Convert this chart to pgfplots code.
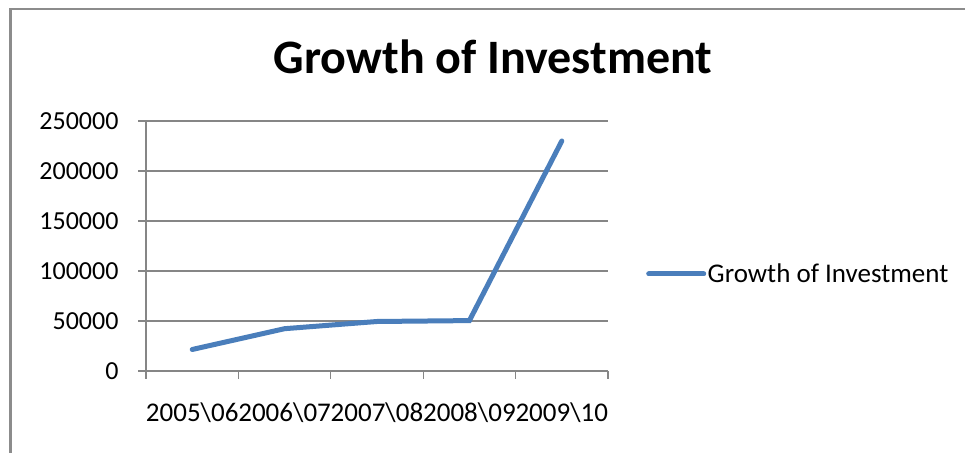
\documentclass[border=0pt]{standalone}
\usepackage{pgfplots}
\pgfplotsset{compat=1.18}
\usepackage{fontspec}
\setmainfont{Carlito}
\definecolor{serieblue}{HTML}{4A7EBB}
\definecolor{gridgray}{HTML}{868686}
\definecolor{bordergray}{HTML}{8C8C8C}
\begin{document}
\begin{tikzpicture}[x=1bp,y=1bp]
\path[use as bounding box] (0,0) rectangle (965,453);
\draw[bordergray, line width=2.2bp] (10.5,0) -- (10.5,444) -- (965,444);
\node[font=\fontsize{48bp}{57bp}\selectfont\bfseries, anchor=base, inner sep=0pt] at (493,379) {Growth of Investment};
\begin{axis}[
  at={(146bp,82bp)}, anchor=south west,
  scale only axis, width=462bp, height=250bp,
  xmin=-0.5, xmax=4.5, ymin=0, ymax=250000,
  ytick={0,50000,100000,150000,200000,250000},
  scaled y ticks=false,
  /pgf/number format/.cd, fixed, 1000 sep={}, assume math mode=true, /pgfplots/.cd,
  xtick={-0.5,0.5,1.5,2.5,3.5,4.5},
  xticklabels={},
  extra x ticks={0,1,2,3,4},
  extra x tick labels={2005\textbackslash 06,2006\textbackslash 07,2007\textbackslash 08,2008\textbackslash 09,2009\textbackslash 10},
  extra x tick style={major tick length=0pt, grid=none,
    xticklabel style={yshift=-28bp, font=\fontsize{27bp}{32bp}\selectfont}},
  ymajorgrids,
  grid style={gridgray, line width=1.3bp},
  axis line style={gridgray, line width=1.3bp},
  tick style={gridgray, line width=1.3bp},
  major tick length=8bp,
  tick align=outside,
  axis x line*=bottom, axis y line*=left,
  tick label style={font=\fontsize{26bp}{31bp}\selectfont, text=black},
  yticklabel style={xshift=-16bp},
  clip=false,
  legend style={draw=none, fill=none, at={(1.0823,0.388)}, anchor=west,
    font=\fontsize{27bp}{32bp}\selectfont, inner sep=0pt, legend cell align=left,
    nodes={inner sep=1.5bp}},
  legend image code/.code={\draw[#1, line width=5bp, line cap=round] (0bp,0bp) -- (55bp,0bp);},
]
\addplot[serieblue, line width=5bp, line join=miter, line cap=round] coordinates {(0,21500) (1,42300) (2,49500) (3,50400) (4,230000)};
\addlegendentry{Growth of Investment}
\end{axis}
\end{tikzpicture}
\end{document}
